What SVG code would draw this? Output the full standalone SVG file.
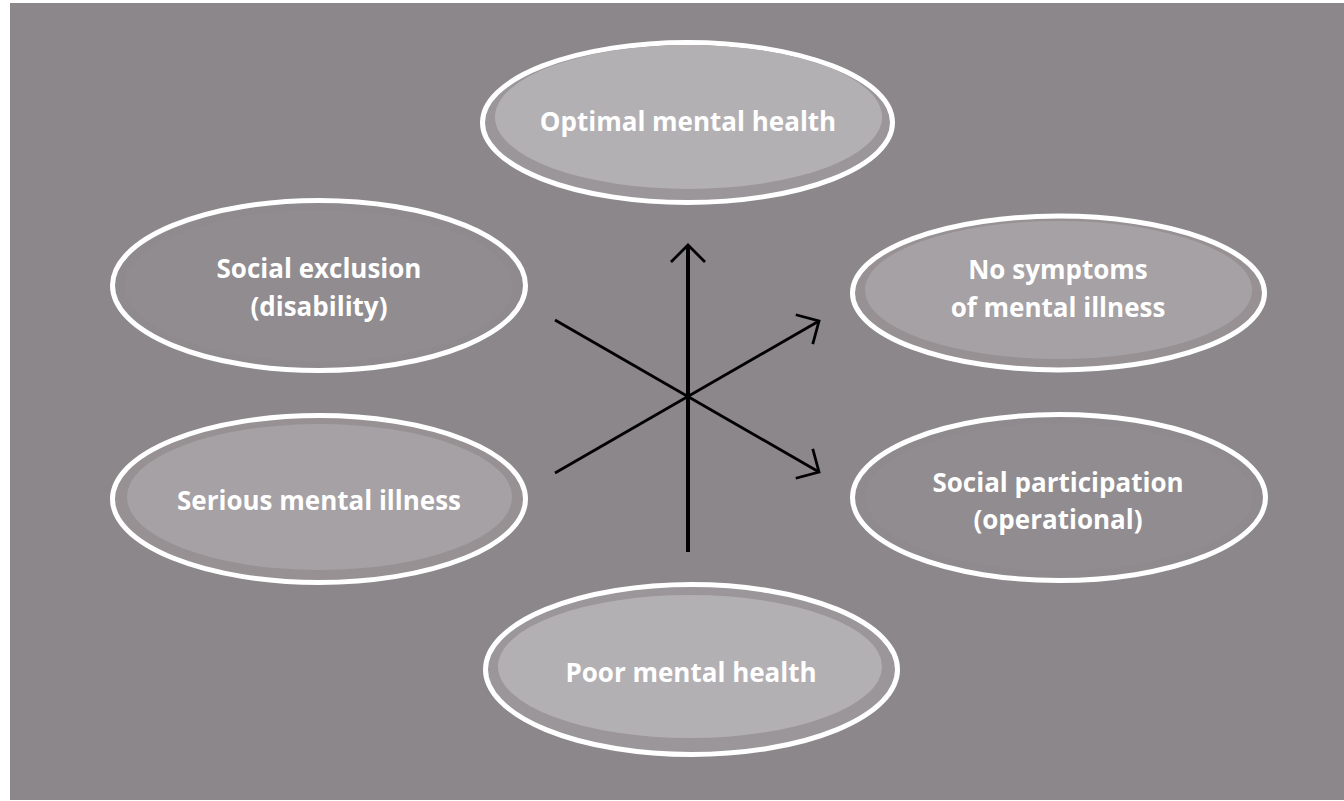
<svg xmlns="http://www.w3.org/2000/svg" width="1344" height="801" viewBox="0 0 1344 801">
<defs>
<style>
.outer{stroke:#ffffff;stroke-width:5}
.lbl{font-family:"Open Sans","Liberation Sans",sans-serif;font-weight:bold;font-size:26px;fill:#ffffff;text-anchor:middle}
.t1 .outer{fill:#9b9699}.t1 .inner{fill:#b3b0b3}
.t2 .outer{fill:#979194}.t2 .inner{fill:#a6a1a4}
.t3 .outer{fill:#8f8a8d}.t3 .inner{fill:#918c8f}
.ax{stroke:#000000;fill:none}
</style>
<marker id="arr" markerUnits="userSpaceOnUse" markerWidth="40" markerHeight="40" viewBox="-25 -20 30 40" refX="0" refY="0" orient="auto">
<path d="M -17 -17 L 0 0 L -17 17" fill="none" stroke="#000000" stroke-width="2.8" stroke-linejoin="miter"/>
</marker>
</defs>
<rect x="0" y="0" width="1344" height="801" fill="#ffffff"/>
<rect x="10" y="3" width="1334" height="797" fill="#8c878a"/>

<g id="node-optimal" class="t1">
<ellipse class="outer" cx="687.5" cy="122.5" rx="205" ry="80"/>
<ellipse class="inner" cx="688.5" cy="117" rx="193.5" ry="72"/>
<text class="lbl" x="688" y="131">Optimal mental health</text>
</g>
<g id="node-social-exclusion" class="t3">
<ellipse class="outer" cx="319" cy="285.5" rx="206.5" ry="85"/>
<ellipse class="inner" cx="319" cy="286" rx="194" ry="76"/>
<text class="lbl" x="319" y="278">Social exclusion</text>
<text class="lbl" x="319" y="316">(disability)</text>
</g>
<g id="node-no-symptoms" class="t2">
<ellipse class="outer" cx="1058.5" cy="293" rx="206" ry="77"/>
<ellipse class="inner" cx="1058.5" cy="290" rx="193.5" ry="69"/>
<text class="lbl" x="1058" y="279">No symptoms</text>
<text class="lbl" x="1058" y="317">of mental illness</text>
</g>
<g id="node-serious" class="t2">
<ellipse class="outer" cx="319" cy="499" rx="206.5" ry="83.5"/>
<ellipse class="inner" cx="319.5" cy="497" rx="192.5" ry="73"/>
<text class="lbl" x="319" y="510">Serious mental illness</text>
</g>
<g id="node-social-participation" class="t3">
<ellipse class="outer" cx="1059" cy="497.5" rx="206.5" ry="83"/>
<ellipse class="inner" cx="1059" cy="497" rx="194" ry="74"/>
<text class="lbl" x="1058" y="492">Social participation</text>
<text class="lbl" x="1058" y="529">(operational)</text>
</g>
<g id="node-poor" class="t1">
<ellipse class="outer" cx="691.5" cy="669.5" rx="206" ry="85"/>
<ellipse class="inner" cx="690" cy="666.5" rx="192" ry="71.5"/>
<text class="lbl" x="691" y="682">Poor mental health</text>
</g>

<g id="connectors">
<line class="ax" x1="688" y1="552" x2="688" y2="245" stroke-width="4" marker-end="url(#arr)"/>
<line class="ax" x1="555" y1="473" x2="819" y2="321" stroke-width="2.8" marker-end="url(#arr)"/>
<line class="ax" x1="555" y1="320" x2="819" y2="472" stroke-width="2.8" marker-end="url(#arr)"/>
</g>
</svg>
